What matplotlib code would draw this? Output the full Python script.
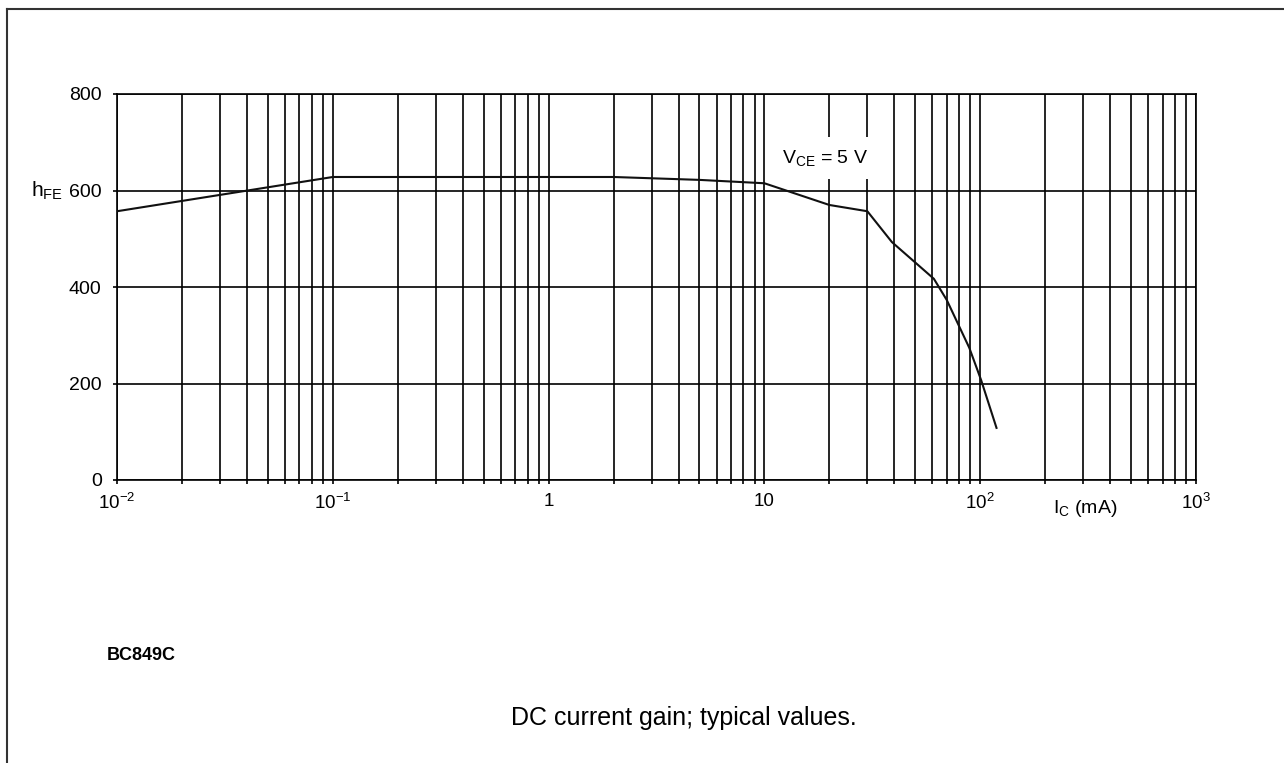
import numpy as np
import matplotlib
matplotlib.use("Agg")
from matplotlib import pyplot as plt
from matplotlib.ticker import FixedLocator, NullFormatter, LogLocator

# DC current gain, BC849C, VCE = 5 V
ic_ma = [0.01, 0.1, 2, 5, 10, 20, 30, 39, 61, 70, 89, 101, 119]
hfe = [557, 628, 628, 622, 615, 570, 557, 493, 417, 373, 274, 207, 108]

x_ticks = [1e-2, 1e-1, 1, 10, 1e2, 1e3]
x_labels = [r'$\mathregular{10^{-2}}$', r'$\mathregular{10^{-1}}$', '1', '10',
            r'$\mathregular{10^{2}}$', r'$\mathregular{10^{3}}$']
y_ticks = [0, 200, 400, 600, 800]

plt.rcParams['font.family'] = ['Liberation Sans', 'DejaVu Sans']
plt.rcParams['mathtext.fontset'] = 'custom'
plt.rcParams['mathtext.rm'] = 'Liberation Sans'
plt.rcParams['mathtext.it'] = 'Liberation Sans'

fig = plt.figure(figsize=(12.84, 7.63), dpi=100)
ax = fig.add_axes([117/1284, 1-480/763, (1196-117)/1284, (480-94)/763])

ax.plot(ic_ma, hfe, color='#111111', lw=1.5, zorder=3)

ax.set_xscale('log')
ax.set_xlim(1e-2, 1e3)
ax.set_ylim(0, 800)
ax.xaxis.set_major_locator(FixedLocator(x_ticks))
ax.set_xticklabels(x_labels)
ax.xaxis.set_minor_locator(LogLocator(base=10, subs=np.arange(2, 10)))
ax.xaxis.set_minor_formatter(NullFormatter())
ax.set_yticks(y_ticks)

ax.grid(True, which='both', axis='x', color='black', lw=1.2)
ax.grid(True, which='major', axis='y', color='black', lw=1.2)
for s in ax.spines.values():
    s.set_linewidth(1.2)
ax.tick_params(which='both', direction='out', length=3, width=1.2)
ax.tick_params(axis='y', labelsize=14, pad=8)
ax.tick_params(axis='x', labelsize=13.5, pad=6)

ax.text(-0.05, 600, r'$\mathregular{h_{FE}}$', transform=ax.get_yaxis_transform(),
        ha='right', va='center', fontsize=15)
ax.text(30.2, 668, r'$\mathregular{V_{CE}}$ = 5 V', fontsize=14, ha='right', va='center',
        bbox=dict(facecolor='white', edgecolor='none', pad=8), zorder=2)
ax.text(306, -60, r'$\mathregular{I_{C}}$ (mA)', fontsize=14, ha='center', va='center')

fig.text(107/1284, 1-655/763, 'BC849C', fontsize=13, fontweight='bold', va='center')
fig.text(684/1284, 1-718/763, 'DC current gain; typical values.', fontsize=18,
         ha='center', va='center')

# page frame
fig.add_artist(plt.Line2D([7/1284, 7/1284], [0, 1-9/763], color='#333333', lw=1.5))
fig.add_artist(plt.Line2D([7/1284, 1], [1-9/763, 1-9/763], color='#333333', lw=1.5))

fig.savefig('out.png', dpi=100)
